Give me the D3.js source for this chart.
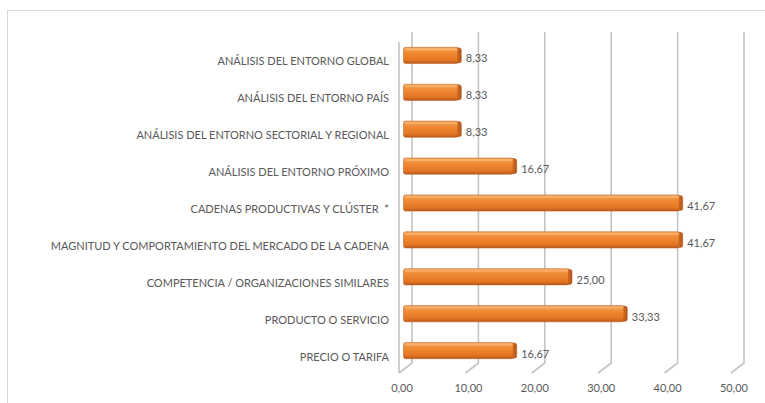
<!DOCTYPE html>
<html>
<head>
<meta charset="utf-8">
<script src="https://cdn.jsdelivr.net/npm/d3@7"></script>
<style>
  html, body { margin: 0; padding: 0; background: #fff; }
  svg { display: block; }
  text { font-family: Lato, "Open Sans", sans-serif; fill: #595959; white-space: pre; }
</style>
</head>
<body>
<svg id="chart" width="765" height="403"></svg>
<script>
// Categories (top to bottom) and their percentages
const categories = [
  "ANÁLISIS DEL ENTORNO GLOBAL",
  "ANÁLISIS DEL ENTORNO PAÍS",
  "ANÁLISIS DEL ENTORNO SECTORIAL Y REGIONAL",
  "ANÁLISIS DEL ENTORNO PRÓXIMO",
  "CADENAS PRODUCTIVAS Y CLÚSTER  *",
  "MAGNITUD Y COMPORTAMIENTO DEL MERCADO DE LA CADENA",
  "COMPETENCIA / ORGANIZACIONES SIMILARES",
  "PRODUCTO O SERVICIO",
  "PRECIO O TARIFA"
];
const values = [8.33, 8.33, 8.33, 16.67, 41.67, 41.67, 25.00, 33.33, 16.67];
const ticks = [0, 10, 20, 30, 40, 50];

const fmt = v => v.toFixed(2).replace(".", ",");

const svg = d3.select("#chart");

// Chart area border
svg.append("rect")
  .attr("x", 7.5).attr("y", 10.5)
  .attr("width", 800).attr("height", 420)
  .attr("fill", "none").attr("stroke", "#d9d9d9");

// Depth of the 3D box: back wall sits up-right of the front plane
const depthX = 13, depthY = 10;
const x = d3.scaleLinear().domain([0, 50]).range([399, 731]);   // front plane
const backX = v => x(v) + depthX;
const midX = v => x(v) + depthX / 2;
const yBackTop = 32, yBackBottom = 363, yFront = yBackBottom + depthY;

const y = d3.scaleBand().domain(categories).range([37, 369]).paddingInner(0.56).paddingOuter(0.28);

const grid = svg.append("g").attr("stroke", "#c4c4c4").attr("stroke-width", 1.6).attr("fill", "none");

// Left side wall edge
grid.append("path")
  .attr("d", `M${x(0)},${yBackTop + depthY} L${x(0)},${yFront}`);

// Back-wall gridlines with floor lines running to the front
grid.selectAll("path.g").data(ticks).join("path")
  .attr("class", "g")
  .attr("d", t => `M${backX(t)},${yBackTop} L${backX(t)},${yBackBottom} L${x(t)},${yFront}`);

// Gradients for the bar faces
const defs = svg.append("defs");
const gFront = defs.append("linearGradient").attr("id", "barFront")
  .attr("x1", 0).attr("y1", 0).attr("x2", 0).attr("y2", 1);
gFront.append("stop").attr("offset", "0%").attr("stop-color", "#f7a559");
gFront.append("stop").attr("offset", "35%").attr("stop-color", "#f08a32");
gFront.append("stop").attr("offset", "80%").attr("stop-color", "#e27524");
gFront.append("stop").attr("offset", "100%").attr("stop-color", "#b9581a");
const gCap = defs.append("linearGradient").attr("id", "barCap")
  .attr("x1", 0).attr("y1", 0).attr("x2", 1).attr("y2", 0);
gCap.append("stop").attr("offset", "0%").attr("stop-color", "#e07426");
gCap.append("stop").attr("offset", "100%").attr("stop-color", "#b55719");

const bars = svg.append("g");
const bh = y.bandwidth();

categories.forEach((c, i) => {
  const v = values[i];
  const y0 = y(c);
  const x0 = midX(0) - 2, x1 = midX(v) - 3;
  const gb = bars.append("g");
  // right end cap, slightly offset for depth
  gb.append("rect")
    .attr("x", x1 - 3).attr("y", y0 + 0.5)
    .attr("width", 6.5).attr("height", bh - 1)
    .attr("rx", 2.5)
    .attr("fill", "url(#barCap)")
    .attr("stroke", "#a94f16").attr("stroke-width", 0.5);
  // front face
  gb.append("rect")
    .attr("x", x0).attr("y", y0)
    .attr("width", x1 - x0).attr("height", bh)
    .attr("rx", 2)
    .attr("fill", "url(#barFront)")
    .attr("stroke", "#b9581a").attr("stroke-width", 0.5);
  // top highlight strip
  gb.append("rect")
    .attr("x", x0 + 1.5).attr("y", y0 + 1)
    .attr("width", Math.max(0, x1 - x0 - 2)).attr("height", 2)
    .attr("fill", "#f9b877").attr("opacity", 0.7);

  // value label
  svg.append("text")
    .attr("x", x1 + 8).attr("y", y0 + bh / 2 + 7)
    .attr("font-size", 11)
    .text(fmt(v));

  // category label
  svg.append("text")
    .attr("x", 389).attr("y", y0 + bh / 2 + 10)
    .attr("text-anchor", "end")
    .attr("font-size", 11)
    .text(c);
});

// Value axis tick labels
svg.selectAll("text.tick").data(ticks).join("text")
  .attr("class", "tick")
  .attr("x", t => x(t) + 3).attr("y", 392)
  .attr("text-anchor", "middle")
  .attr("font-size", 11)
  .text(fmt);
</script>
</body>
</html>
